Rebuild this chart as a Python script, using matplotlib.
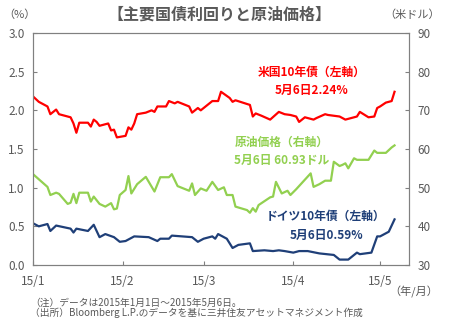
import matplotlib
matplotlib.use("Agg")
import matplotlib.pyplot as plt
import numpy as np
import pandas as pd

plt.rcParams['font.family'] = ['Noto Sans CJK JP', 'DejaVu Sans']

# 米国10年債利回り (%)
us_dates = ["01-01", "01-03", "01-06", "01-07", "01-09", "01-10", "01-14", "01-15",
            "01-16", "01-17", "01-20", "01-21", "01-22", "01-23", "01-24", "01-27",
            "01-28", "01-29", "01-30", "02-02", "02-03", "02-04", "02-05", "02-06",
            "02-09", "02-11", "02-12", "02-13", "02-16", "02-17", "02-19", "02-20",
            "02-24", "02-25", "02-27", "02-28", "03-04", "03-06", "03-07", "03-10",
            "03-11", "03-12", "03-17", "03-18", "03-19", "03-21", "03-24", "03-27",
            "03-29", "03-31", "04-02", "04-03", "04-05", "04-08", "04-09", "04-12",
            "04-13", "04-17", "04-19", "04-21", "04-23", "04-24", "04-27", "04-29",
            "04-30", "05-01", "05-03", "05-05", "05-06"]
us_yield = [2.18, 2.11, 2.05, 1.95, 2.01, 1.95, 1.91, 1.83,
            1.71, 1.84, 1.84, 1.79, 1.88, 1.85, 1.80, 1.83,
            1.74, 1.75, 1.65, 1.67, 1.78, 1.75, 1.83, 1.95,
            1.97, 2.00, 1.98, 2.05, 2.05, 2.12, 2.09, 2.11,
            2.05, 1.97, 2.03, 2.00, 2.12, 2.12, 2.24, 2.16,
            2.11, 2.13, 2.07, 1.92, 1.96, 1.93, 1.88, 1.98,
            1.95, 1.94, 1.92, 1.85, 1.91, 1.88, 1.90, 1.95,
            1.94, 1.92, 1.88, 1.90, 1.92, 1.98, 1.91, 1.92,
            2.03, 2.05, 2.10, 2.12, 2.24]

# 原油価格 (米ドル)
oil_dates = ["01-01", "01-06", "01-07", "01-09", "01-10", "01-13", "01-14", "01-15",
             "01-16", "01-17", "01-20", "01-21", "01-22", "01-24", "01-26", "01-28",
             "01-29", "01-30", "01-31", "02-02", "02-03", "02-04", "02-06", "02-09",
             "02-12", "02-14", "02-17", "02-18", "02-20", "02-24", "02-25", "02-26",
             "02-28", "03-02", "03-04", "03-06", "03-08", "03-09", "03-11", "03-12",
             "03-16", "03-17", "03-18", "03-19", "03-20", "03-24", "03-25", "03-26",
             "03-28", "03-30", "03-31", "04-02", "04-07", "04-08", "04-10", "04-12",
             "04-14", "04-15", "04-17", "04-18", "04-19", "04-20", "04-22", "04-23",
             "04-27", "04-29", "04-30", "05-03", "05-05", "05-06"]
oil_price = [53.5, 50.2, 48.1, 48.7, 48.4, 45.8, 46.1, 48.4,
             46.0, 48.7, 48.7, 46.4, 47.7, 45.8, 45.1, 46.0,
             44.4, 44.6, 48.1, 49.4, 53.0, 48.5, 50.9, 52.8,
             49.0, 52.7, 52.7, 53.5, 50.4, 49.2, 51.1, 48.1,
             49.8, 49.2, 51.5, 49.4, 50.1, 48.1, 48.1, 45.1,
             44.2, 43.5, 44.7, 43.8, 45.5, 47.5, 47.7, 51.5,
             48.5, 49.2, 48.1, 49.6, 53.7, 50.2, 50.9, 51.8,
             51.8, 56.7, 55.6, 55.9, 56.3, 55.0, 57.6, 57.2,
             57.2, 59.6, 59.0, 59.0, 60.4, 60.93]

# ドイツ10年債利回り (%)
de_dates = ["01-01", "01-03", "01-05", "01-06", "01-07", "01-09", "01-14", "01-15",
            "01-16", "01-20", "01-22", "01-24", "01-26", "01-29", "01-31", "02-02",
            "02-05", "02-10", "02-13", "02-14", "02-17", "02-18", "02-25", "02-27",
            "03-01", "03-04", "03-05", "03-06", "03-09", "03-11", "03-13", "03-17",
            "03-18", "03-22", "03-25", "03-27", "03-29", "04-01", "04-03", "04-06",
            "04-10", "04-15", "04-17", "04-20", "04-23", "04-24", "04-28", "04-30",
            "05-01", "05-04", "05-06"]
de_yield = [0.54, 0.50, 0.52, 0.53, 0.44, 0.51, 0.47, 0.42,
            0.47, 0.44, 0.52, 0.36, 0.40, 0.36, 0.30, 0.31,
            0.37, 0.36, 0.31, 0.34, 0.34, 0.38, 0.36, 0.30,
            0.34, 0.37, 0.34, 0.40, 0.34, 0.22, 0.26, 0.28,
            0.18, 0.19, 0.18, 0.19, 0.18, 0.16, 0.18, 0.18,
            0.15, 0.13, 0.07, 0.07, 0.16, 0.14, 0.16, 0.37,
            0.37, 0.43, 0.59]

month_ticks = ["2015-01-01", "2015-02-01", "2015-03-01", "2015-04-01", "2015-05-01"]
month_labels = ["15/1", "15/2", "15/3", "15/4", "15/5"]

RED = "#ff0000"
GREEN = "#92d050"
NAVY = "#1f3f78"
GREY = "#595959"
SPINE = "#808080"


def to_dates(md):
    return pd.to_datetime(["2015-" + d for d in md])


fig = plt.figure(figsize=(4.53, 3.31), dpi=100)
ax = fig.add_axes([33 / 453, 1 - 265 / 331, 376 / 453, 232 / 331])
ax2 = ax.twinx()

ax.plot(to_dates(us_dates), us_yield, color=RED, lw=1.6)
ax.plot(to_dates(de_dates), de_yield, color=NAVY, lw=1.6)
ax2.plot(to_dates(oil_dates), oil_price, color=GREEN, lw=1.6)

ax.set_xlim(pd.Timestamp("2015-01-01"), pd.Timestamp("2015-05-11"))
ax.set_ylim(0, 3.0)
ax2.set_ylim(30, 90)
ax.set_yticks(np.arange(0, 3.01, 0.5))
ax.set_yticklabels([f"{v:.1f}" for v in np.arange(0, 3.01, 0.5)])
ax2.set_yticks(np.arange(30, 91, 10))
ax.set_xticks(pd.to_datetime(month_ticks))
ax.set_xticklabels(month_labels)

for a in (ax, ax2):
    for s in a.spines.values():
        s.set_color(SPINE)
        s.set_linewidth(0.8)
    a.tick_params(direction="in", length=3, width=0.8, color=SPINE,
                  labelcolor=GREY, labelsize=8.5)
ax.tick_params(axis="x", pad=7)
ax.tick_params(axis="y", pad=6)
ax2.tick_params(axis="y", pad=6)

# titles and axis units
fig.text(219 / 453, 1 - 15 / 331, "【主要国債利回りと原油価格】", ha="center", va="center",
         fontsize=11.5, color=GREY, fontweight="bold")
fig.text(19 / 453, 1 - 15 / 331, "（%）", ha="center", va="center", fontsize=8, color=GREY)
fig.text(412 / 453, 1 - 15 / 331, "（米ドル）", ha="center", va="center", fontsize=8, color=GREY)
fig.text(414 / 453, 1 - 292 / 331, "（年/月）", ha="center", va="center", fontsize=8, color=GREY)

# series labels
fig.text(312 / 453, 1 - 72 / 331, "米国10年債（左軸）", ha="center", va="center",
         fontsize=8.5, color=RED, fontweight="bold")
fig.text(312 / 453, 1 - 90 / 331, f"5月6日{us_yield[-1]:.2f}%", ha="center", va="center",
         fontsize=8.5, color=RED, fontweight="bold")
fig.text(282 / 453, 1 - 142 / 331, "原油価格（右軸）", ha="center", va="center",
         fontsize=8.5, color=GREEN, fontweight="bold")
fig.text(282 / 453, 1 - 160 / 331, f"5月6日 {oil_price[-1]:.2f}ドル", ha="center", va="center",
         fontsize=8.5, color=GREEN, fontweight="bold")
fig.text(326 / 453, 1 - 216 / 331, "ドイツ10年債（左軸）", ha="center", va="center",
         fontsize=8.5, color=NAVY, fontweight="bold")
fig.text(326 / 453, 1 - 235 / 331, f"5月6日{de_yield[-1]:.2f}%", ha="center", va="center",
         fontsize=8.5, color=NAVY, fontweight="bold")

# notes
fig.text(30 / 453, 1 - 303 / 331, "（注）データは2015年1月1日～2015年5月6日。",
         ha="left", va="center", fontsize=7, color=GREY)
fig.text(30 / 453, 1 - 313 / 331, "（出所）Bloomberg L.P.のデータを基に三井住友アセットマネジメント作成",
         ha="left", va="center", fontsize=7, color=GREY)

fig.savefig("out.png", dpi=100)
